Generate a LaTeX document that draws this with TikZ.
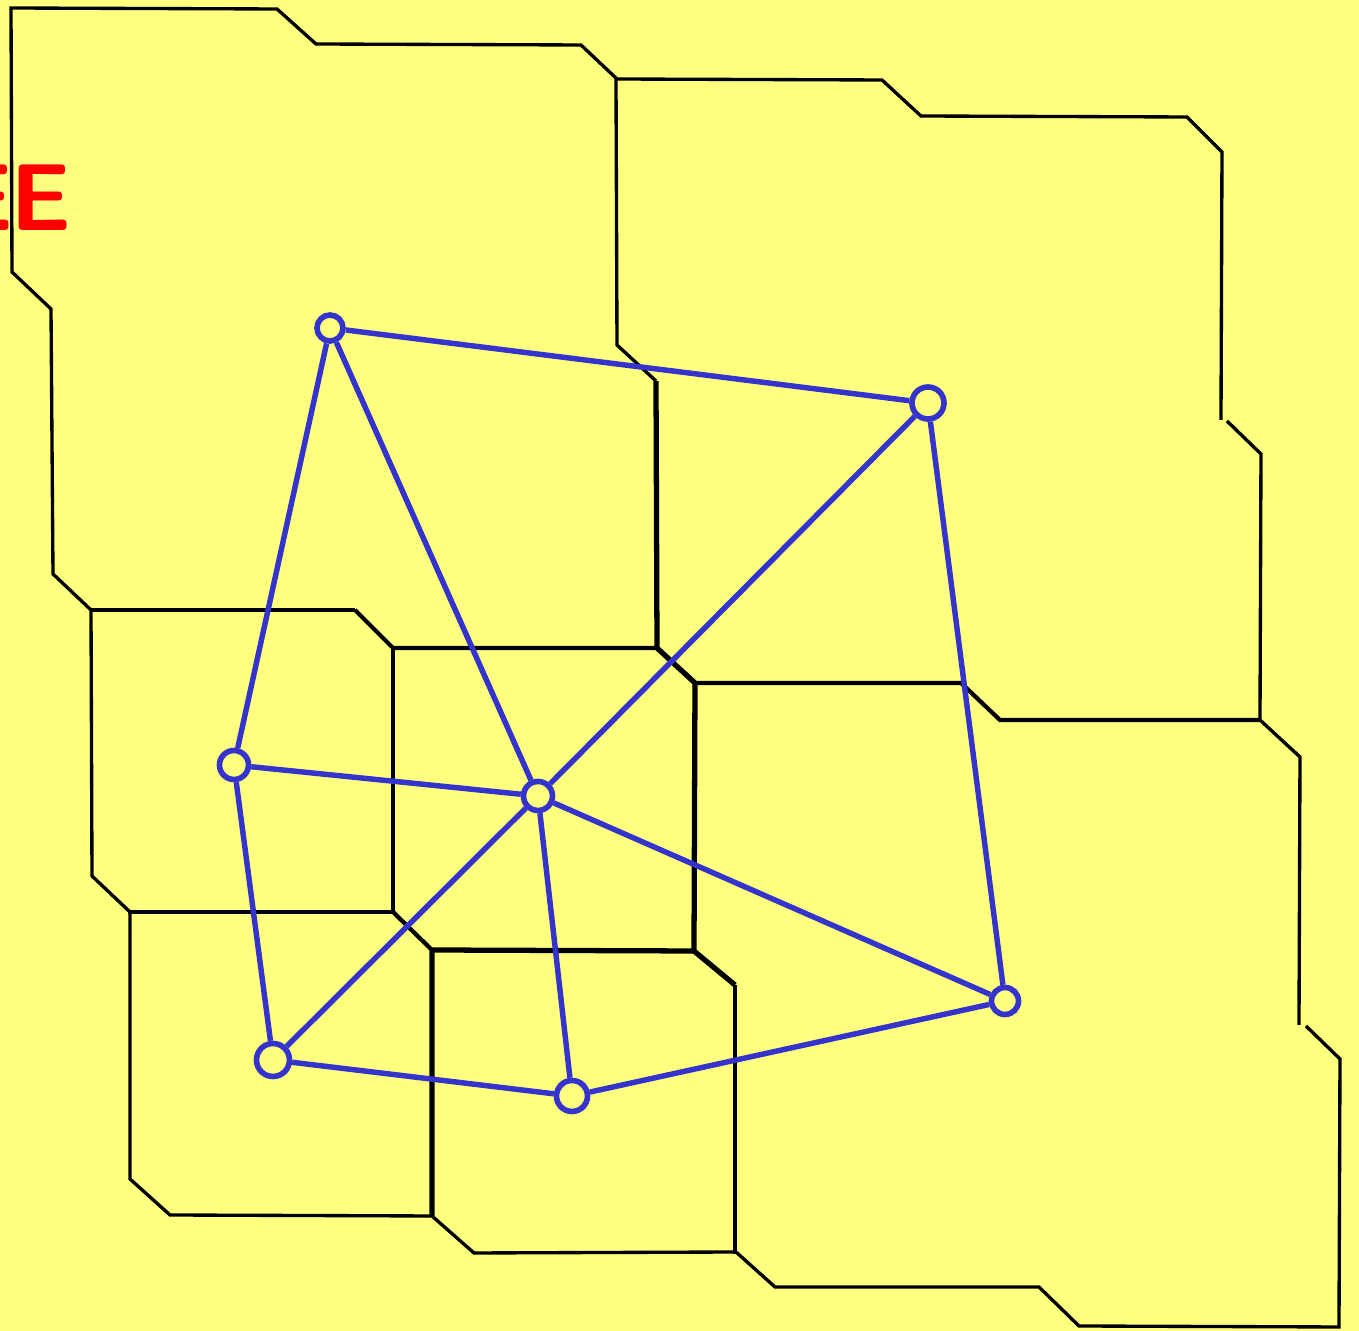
\documentclass[tikz,border=0pt]{standalone}
\usetikzlibrary{positioning}
\definecolor{bgyellow}{RGB}{255,255,128}
\definecolor{siteblue}{RGB}{52,52,204}
\definecolor{markred}{RGB}{255,0,0}

\begin{document}
\begin{tikzpicture}[x=0.01cm,y=-0.01cm,
  wall/.style={line width=0.95pt,line join=miter},
  midwall/.style={line width=1.2pt,line join=miter},
  heavywall/.style={line width=1.5pt,line join=miter},
  site/.style={circle,draw=siteblue,line width=1.6pt,fill=bgyellow,inner sep=0pt,minimum size=2.9mm},
  link/.style={draw=siteblue,line width=1.55pt}]
\fill[bgyellow] (0,0) rectangle (1359,1331);
\useasboundingbox (0,0) rectangle (1359,1331);
\begin{scope}
\clip (0,0) rectangle (1359,1331);
\node[anchor=east,text=markred,font=\sffamily\bfseries\fontsize{27}{27}\selectfont,inner sep=0pt] (mark) at (72,198) {E\kern-1ptE};
\end{scope}

% outer boundary
\draw[wall] (1221,420) -- (1222,152) -- (1187,117) -- (921,116) -- (882,80) -- (617,79) -- (581,45)
  -- (316,44) -- (277,9) -- (11,8) -- (12,272) -- (51,309) -- (53,574) -- (91,610) -- (92,876)
  -- (130,912) -- (130,1179) -- (170,1215) -- (432,1216) -- (474,1253) -- (736,1252) -- (775,1287)
  -- (1039,1287) -- (1079,1326) -- (1339,1327) -- (1340,1059) -- (1306,1026);
\draw[wall] (1299,1025) -- (1300,757) -- (1260,720) -- (1261,454) -- (1227,421);

% inner walls
\draw[wall] (616,79) -- (617,345) -- (656,381);
\draw[heavywall] (656,381) -- (657,648) -- (695,683) -- (694,951) -- (735,985);
\draw[wall] (735,985) -- (735,1254);
\draw[wall] (91,610) -- (355,610);
\draw[midwall] (355,610) -- (393,648) -- (657,648);
\draw[midwall] (695,683) -- (961,683) -- (1000,720) -- (1260,720);
\draw[wall] (393,648) -- (393,912);
\draw[midwall] (393,912) -- (432,950);
\draw[heavywall] (694,951) -- (432,950) -- (432,1216);
\draw[wall] (128,912) -- (393,912);

% sites
\node[site,minimum size=2.6mm] (a) at (330,328) {};
\node[site,minimum size=3.2mm] (b) at (928,403) {};
\node[site] (c) at (234,765) {};
\node[site] (d) at (538,796) {};
\node[site,minimum size=2.7mm] (e) at (1005,1001) {};
\node[site,minimum size=3.3mm] (f) at (273,1060) {};
\node[site,minimum size=3.1mm] (g) at (572,1096) {};

% triangulation
\draw[link] (a) -- (b); \draw[link] (a) -- (c); \draw[link] (a) -- (d);
\draw[link] (b) -- (d); \draw[link] (b) -- (e); \draw[link] (c) -- (d);
\draw[link] (c) -- (f); \draw[link] (d) -- (f); \draw[link] (d) -- (g);
\draw[link] (d) -- (e); \draw[link] (f) -- (g); \draw[link] (g) -- (e);
\end{tikzpicture}
\end{document}
